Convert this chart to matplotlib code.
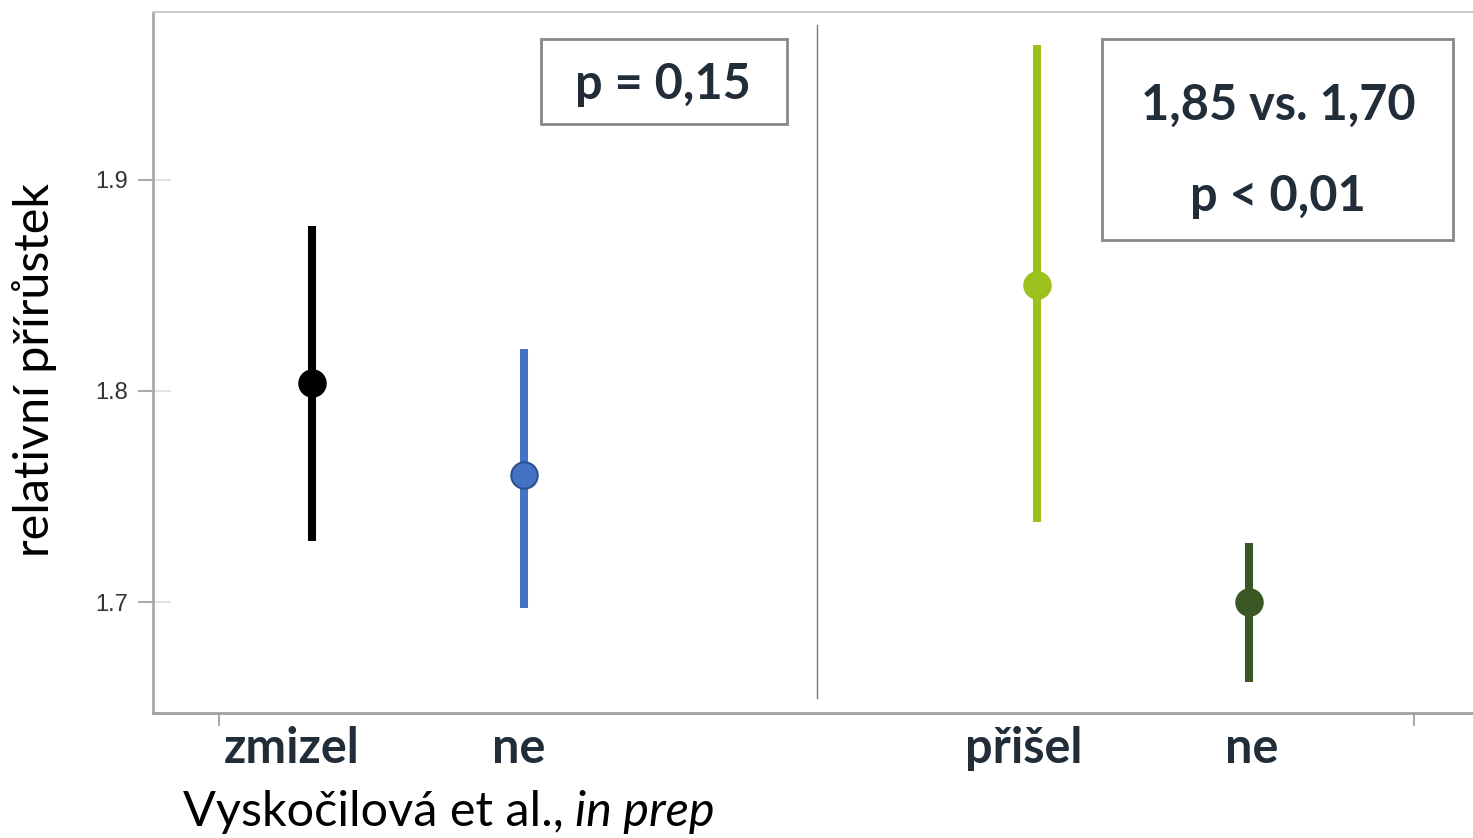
import matplotlib.pyplot as plt
from matplotlib.patches import Rectangle

plt.rcParams['font.family'] = ['Lato', 'DejaVu Sans']

# Group means with confidence limits
categories = ['zmizel', 'ne', 'přišel', 'ne']
positions = [0.0, 1.0, 3.42, 4.42]
means = [1.804, 1.760, 1.85, 1.70]
lower = [1.729, 1.697, 1.738, 1.662]
upper = [1.878, 1.820, 1.964, 1.728]
colors = ['#000000', '#4472C4', '#9DC11C', '#3A5724']
edge_colors = ['#000000', '#2F528F', '#9DC11C', '#3A5724']
yticks = [1.7, 1.8, 1.9]
label_shift = [-20, -5, -13, 3]  # pixels

W, H = 1473, 838
fig = plt.figure(figsize=(W / 100, H / 100), dpi=100)
ax = fig.add_axes([153 / W, (H - 713) / H, (W - 153) / W, 701 / H])

ax.set_xlim(-0.75, 5.476)
ax.set_ylim(1.6474, 1.9796)

# Error bars and mean markers
for x, m, lo, hi, c, ec in zip(positions, means, lower, upper, colors, edge_colors):
    ax.plot([x, x], [lo, hi], color=c, linewidth=5.8, solid_capstyle='butt', zorder=2)
    ax.plot(x, m, 'o', markersize=19, color=c, markeredgecolor=ec,
            markeredgewidth=1.5, zorder=3)

# Divider between the two comparisons
ax.axvline(2.38, ymin=0.021, ymax=0.981, color='#777777', linewidth=1)

# Spines
ax.spines['right'].set_visible(False)
ax.spines['left'].set_color('#A3AAAE')
ax.spines['left'].set_linewidth(2)
ax.spines['bottom'].set_color('#A0A0A0')
ax.spines['bottom'].set_linewidth(2)
ax.spines['top'].set_color('#CCCCCC')
ax.spines['top'].set_linewidth(1.5)

# Y ticks
ax.set_yticks(yticks)
ax.set_yticklabels([str(v) for v in yticks])
ax.tick_params(axis='y', direction='out', length=10.8, width=1.5, color='#AAAAAA',
               labelsize=17, labelcolor='#333333', pad=7)
for t in ax.get_yticklabels():
    t.set_family('Liberation Sans')
for v in yticks:
    ax.axhline(v, xmin=0, xmax=17 / 1320, color='#DDDDDD', linewidth=1.2)

# X ticks at group boundaries, category names as text
ax.set_xticks([-0.44, 5.20])
ax.set_xticklabels(['', ''])
ax.tick_params(axis='x', direction='out', length=9, width=1.5, color='#AAAAAA')
for x, name, dx in zip(positions, categories, label_shift):
    ax.annotate(name, (x, -0.05), xycoords=ax.get_xaxis_transform(),
                xytext=(dx, 0), textcoords='offset pixels',
                ha='center', va='center', fontsize=35, fontweight='bold', color='#222D3A')

ax.set_ylabel('relativní přírůstek', fontsize=35, color='#000000')
ax.yaxis.set_label_coords(-0.0727, 0.489)

# Statistics boxes
for x0, y0, w, h in [(0.2939, 0.8402, 0.1864, 0.1213), (0.7189, 0.6748, 0.2659, 0.2867)]:
    ax.add_patch(Rectangle((x0, y0), w, h, transform=ax.transAxes, facecolor='white',
                           edgecolor='#888888', linewidth=2, zorder=4))
box_text = dict(transform=ax.transAxes, ha='center', va='center', fontsize=35,
                fontweight='bold', color='#222D3A', zorder=5)
ax.text(0.3864, 0.8959, 'p = 0,15', **box_text)
ax.text(0.8523, 0.8673, '1,85 vs. 1,70', **box_text)
ax.text(0.8523, 0.7375, 'p < 0,01', **box_text)

fig.text(183 / W, 1 - 812 / H, 'Vyskočilová et al.,', fontsize=35, va='center', ha='left')
fig.text(575 / W, 1 - 812 / H, 'in prep', fontsize=35, va='center', ha='left', style='italic')

fig.savefig('out.png', dpi=100)
